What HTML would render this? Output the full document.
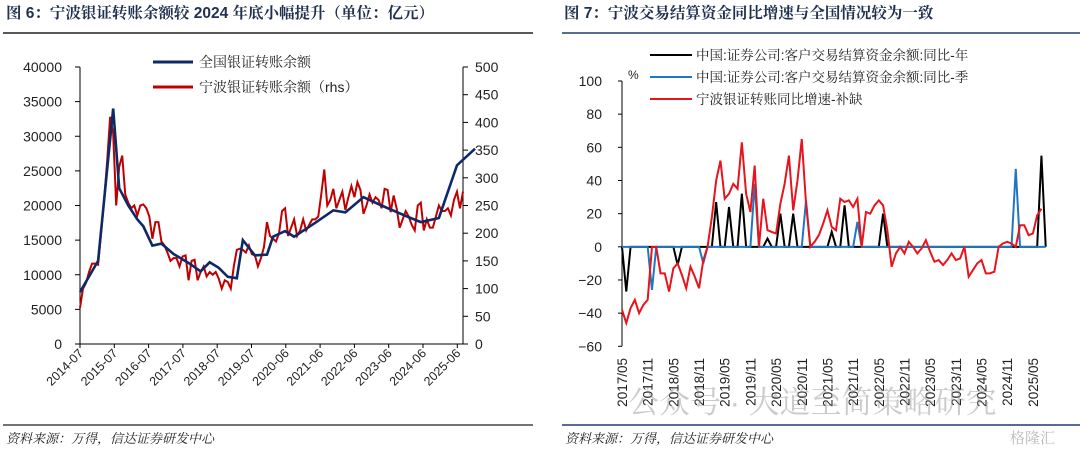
<!DOCTYPE html>
<html><head><meta charset="utf-8"><style>
body{margin:0;background:#fff;}
svg text{font-family:"Liberation Sans","Noto Serif CJK SC",serif;}
</style></head><body>
<svg width="1080" height="449" viewBox="0 0 1080 449" xmlns="http://www.w3.org/2000/svg">
<g id="left"></g>
<g id="right"></g>
</svg>
<script>
// ===== Left chart data =====
const leftXLabels=["2014-07","2015-07","2016-07","2017-07","2018-07","2019-07","2020-06","2021-06","2022-06","2023-06","2024-06","2025-06"];
const leftYTicks=[0,5000,10000,15000,20000,25000,30000,35000,40000];
const rightYTicksL=[0,50,100,150,200,250,300,350,400,450,500];
const nationalMonths=[0,6,11,13,16,19,21,24,27,31,36,40,43,46,49,52,54,58,62,64,68,71,78,84,88,94,100,108,113,119,125,131];
const nationalValues=[7500,12000,34000,22500,20000,18000,17000,14200,14500,13000,11700,10500,11800,11000,9700,9500,15000,12800,12900,15500,16300,15500,17500,19300,19000,21200,20000,18500,17600,18200,25800,28200];
const ningboValues=[65,100,110,130,145,145,143,200,260,330,410,380,250,320,340,270,255,245,250,232,250,252,245,230,190,220,220,185,178,165,150,155,155,140,158,160,115,150,152,115,130,140,122,130,125,130,118,100,115,112,100,140,170,172,170,165,178,162,160,140,155,175,220,195,190,185,200,240,245,195,210,225,195,205,225,205,215,225,225,230,270,315,250,260,280,245,260,275,242,265,285,265,292,278,235,250,270,255,265,260,245,280,278,238,268,245,210,225,240,230,215,205,250,255,205,225,210,210,230,250,240,240,245,232,260,275,245,275];

// ===== Right chart data =====
const rXLabels=["2017/05","2017/11","2018/05","2018/11","2019/05","2019/11","2020/05","2020/11","2021/05","2021/11","2022/05","2022/11","2023/05","2023/11","2024/05","2024/11","2025/05"];
const rYTicks=[-60,-40,-20,0,20,40,60,80,100];
const ningboGrowth=[-38,-46,-37,-32,-40,-35,-32,0,0,-16,-16,-27,-13,-10,-17,-25,-12,-18,-25,-8,0,18,40,52,29,32,38,35,63,32,21,49,0,29,10,9,8,26,38,55,22,40,65,26,0,3,7,14,22,12,10,29,27,28,24,29,0,21,20,25,28,25,10,-12,-4,0,-4,3,0,-4,-1,4,-3,-9,-8,-11,-8,-4,-8,-7,0,-18,-14,-10,-8,-16,-16,-15,0,2,3,2,0,13,13,7,8,19,23];
const yearlySpikeMonths=[1,13,22,25,28,34,37,40,49,52,61,98];
const yearlySpikeValues=[-27,-11,27,24,32,5,20,20,9,25,20,55];
const quarterlySpikeMonths=[7,19,31,43,55,92];
const quarterlySpikeValues=[-26,-10,38,28,15,47];
const rMonthCount=100;

const NS="http://www.w3.org/2000/svg";
function el(tag,attrs,parent,txt){const e=document.createElementNS(NS,tag);for(const k in attrs)e.setAttribute(k,attrs[k]);if(txt!==undefined)e.textContent=txt;parent.appendChild(e);return e;}

// ---------- Left ----------
const L=document.getElementById('left');
const lx0=80,lx1=463,ly0=344,ly1=67;
const nMonths=ningboValues.length;
const lxm=m=>lx0+m*(lx1-lx0)/(nMonths-1);
const lyL=v=>ly0-(v/40000)*(ly0-ly1);
const lyR=v=>ly0-(v/500)*(ly0-ly1);
let t=el('text',{x:6,y:18,'font-size':15.5,'font-weight':'bold',fill:'#1f3050'},L,'图 6：宁波银证转账余额较 2024 年底小幅提升（单位：亿元）');

let r=el('line',{x1:3,y1:33,x2:533,y2:33,stroke:'#222','stroke-width':1.5},L);

el('line',{x1:lx0,y1:ly1,x2:lx0,y2:ly0,stroke:'#000','stroke-width':1},L);
el('line',{x1:lx1,y1:ly1,x2:lx1,y2:ly0,stroke:'#000','stroke-width':1},L);
el('line',{x1:lx0,y1:ly0,x2:lx1,y2:ly0,stroke:'#000','stroke-width':1},L);
leftYTicks.forEach(v=>{const y=lyL(v);el('line',{x1:lx0-5,y1:y,x2:lx0,y2:y,stroke:'#000'},L);
 const tt=el('text',{x:lx0-18,y:y+5,'font-size':14,'text-anchor':'end',fill:'#222'},L,String(v));
 });
rightYTicksL.forEach(v=>{const y=lyR(v);el('line',{x1:lx1,y1:y,x2:lx1+5,y2:y,stroke:'#000'},L);
 const tt=el('text',{x:lx1+12,y:y+5,'font-size':14,fill:'#222'},L,String(v));
 });
leftXLabels.forEach((s,i)=>{const x=lx0+i*34.3;el('line',{x1:x,y1:ly0,x2:x,y2:ly0+4,stroke:'#000'},L);
 const tt=el('text',{x:x+4,y:ly0+10,'font-size':12.5,'text-anchor':'end',fill:'#222',transform:`rotate(-45 ${x+4} ${ly0+10})`},L,s);
 });
let p1=el('polyline',{points:ningboValues.map((v,i)=>lxm(i)+','+lyR(v)).join(' '),fill:'none',stroke:'#c00000','stroke-width':2},L);

let p2=el('polyline',{points:nationalMonths.map((m,i)=>lxm(m)+','+lyL(nationalValues[i])).join(' '),fill:'none',stroke:'#0d2a66','stroke-width':2.6},L);

let lg=el('g',{},L);
el('line',{x1:153,y1:62,x2:193,y2:62,stroke:'#0d2a66','stroke-width':3},lg);
el('text',{x:199,y:67,'font-size':14,fill:'#222'},lg,'全国银证转账余额');
el('line',{x1:153,y1:87,x2:193,y2:87,stroke:'#c00000','stroke-width':3},lg);
el('text',{x:199,y:92,'font-size':14,fill:'#222'},lg,'宁波银证转账余额（rhs）');
r=el('line',{x1:3,y1:425,x2:533,y2:425,stroke:'#222','stroke-width':1.2},L);

t=el('text',{x:6,y:443,'font-size':13,'font-style':'italic',fill:'#222'},L,'资料来源：万得，信达证券研发中心');


// ---------- Right ----------
const R=document.getElementById('right');
const rx0=622,ry0=346.3,ry1=81;
const rxm=m=>rx0+m*4.28;
const ry=v=>ry0-(v+60)/160*(ry0-ry1);
t=el('text',{x:564,y:18,'font-size':15.5,'font-weight':'bold',fill:'#1f3050'},R,'图 7：宁波交易结算资金同比增速与全国情况较为一致');

r=el('line',{x1:562,y1:33,x2:1080,y2:33,stroke:'#1f3c6e','stroke-width':1.5},R);

el('line',{x1:rx0,y1:ry1,x2:rx0,y2:ry0,stroke:'#000'},R);
rYTicks.forEach(v=>{const y=ry(v);el('line',{x1:rx0-4,y1:y,x2:rx0,y2:y,stroke:'#000'},R);
 const tt=el('text',{x:rx0-20,y:y+5,'font-size':14,'text-anchor':'end',fill:'#222'},R,(v<0?'−'+(-v):String(v)));
 });
t=el('text',{x:628,y:79,'font-size':12,fill:'#222'},R,'%');
rXLabels.forEach((s,i)=>{const x=rxm(i*6);
 const tt=el('text',{x:x+5,y:358,'font-size':13.5,'text-anchor':'end',fill:'#222',transform:`rotate(-90 ${x+5} 358)`},R,s);
 });
function spikeSeries(months,vals){const a=new Array(rMonthCount).fill(0);months.forEach((m,i)=>a[m]=vals[i]);return a;}
const yearly=spikeSeries(yearlySpikeMonths,yearlySpikeValues);
const quarterly=spikeSeries(quarterlySpikeMonths,quarterlySpikeValues);
let q=el('polyline',{points:yearly.map((v,i)=>rxm(i)+','+ry(v)).join(' '),fill:'none',stroke:'#000','stroke-width':2},R);

q=el('polyline',{points:quarterly.map((v,i)=>rxm(i)+','+ry(v)).join(' '),fill:'none',stroke:'#1f77c4','stroke-width':2},R);

q=el('polyline',{points:ningboGrowth.map((v,i)=>rxm(i)+','+ry(v)).join(' '),fill:'none',stroke:'#e8141c','stroke-width':2},R);

let rg=el('g',{},R);
[['#000','中国:证券公司:客户交易结算资金余额:同比-年'],['#1f77c4','中国:证券公司:客户交易结算资金余额:同比-季'],['#e8141c','宁波银证转账同比增速-补缺']].forEach((d,i)=>{
 const y=55+i*22;el('line',{x1:650,y1:y,x2:692,y2:y,stroke:d[0],'stroke-width':2},rg);
 el('text',{x:696,y:y+5,'font-size':13.5,fill:'#222'},rg,d[1]);});
t=el('text',{x:628,y:413,'font-size':31,fill:'rgba(140,140,140,0.45)'},R,'公众号 · 大道至简策略研究');

r=el('line',{x1:562,y1:425,x2:1080,y2:425,stroke:'#1f3c6e','stroke-width':1.5},R);

t=el('text',{x:565,y:443,'font-size':13,'font-style':'italic',fill:'#222'},R,'资料来源：万得，信达证券研发中心');

t=el('text',{x:1010,y:443,'font-size':15,fill:'rgba(140,140,140,0.6)'},R,'格隆汇');

</script>
</body></html>
